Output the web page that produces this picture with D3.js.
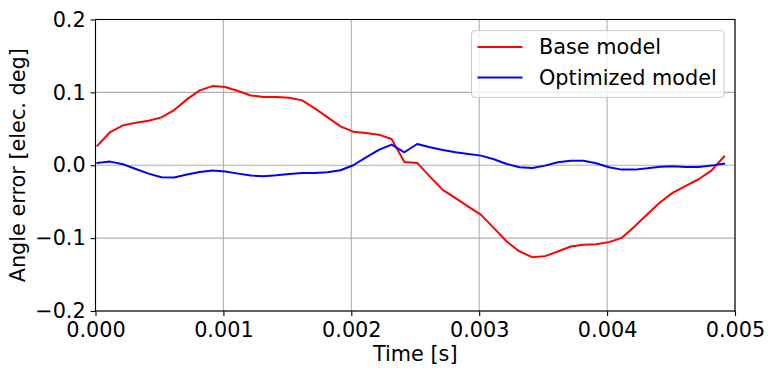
<!DOCTYPE html>
<html>
<head>
<meta charset="utf-8">
<script src="https://cdn.jsdelivr.net/npm/d3@7"></script>
<style>
  body { margin: 0; background: #fff; }
  text { font-family: "DejaVu Sans", sans-serif; }
</style>
</head>
<body>
<svg id="chart" width="768" height="368" viewBox="0 0 768 368"></svg>
<script>
// time samples [s]
let time = [0.000015, 0.000115, 0.000215, 0.000315, 0.000415, 0.000515, 0.000615, 0.000715, 0.000815, 0.000915,
    0.001015, 0.001115, 0.001215, 0.001315, 0.001415, 0.001515, 0.001615, 0.001715, 0.001815, 0.001915,
    0.002015, 0.002115, 0.002215, 0.002315, 0.002415, 0.002515, 0.002615, 0.002715, 0.002815, 0.002915,
    0.003015, 0.003115, 0.003215, 0.003315, 0.003415, 0.003515, 0.003615, 0.003715, 0.003815, 0.003915,
    0.004015, 0.004115, 0.004215, 0.004315, 0.004415, 0.004515, 0.004615, 0.004715, 0.004815, 0.004915]

// angle error [elec. deg]
let base_model = [0.0269, 0.0456, 0.0547, 0.0584, 0.0611, 0.0657, 0.0758, 0.0904, 0.1027, 0.1086,
    0.1073, 0.1018, 0.0958, 0.0936, 0.0936, 0.0927, 0.0890, 0.0781, 0.0657, 0.0534,
    0.0461, 0.0442, 0.0420, 0.0360, 0.0045, 0.0032, -0.0156, -0.0338, -0.0452, -0.0567,
    -0.0681, -0.0863, -0.1046, -0.1183, -0.1261, -0.1247, -0.1183, -0.1115, -0.1092, -0.1083,
    -0.1055, -0.0996, -0.0840, -0.0672, -0.0507, -0.0375, -0.0284, -0.0192, -0.0073, 0.0120]

let optimized_model = [0.0032, 0.0050, 0.0013, -0.0051, -0.0115, -0.0165, -0.0169, -0.0128, -0.0092, -0.0073,
    -0.0087, -0.0115, -0.0142, -0.0151, -0.0137, -0.0119, -0.0105, -0.0105, -0.0096, -0.0069,
    0.0000, 0.0109, 0.0210, 0.0283, 0.0178, 0.0292, 0.0246, 0.0210, 0.0178, 0.0155,
    0.0132, 0.0082, 0.0018, -0.0028, -0.0037, -0.0005, 0.0041, 0.0063, 0.0063, 0.0027,
    -0.0028, -0.0060, -0.0060, -0.0042, -0.0019, -0.0014, -0.0023, -0.0023, -0.0005, 0.0022]

let x_ticks = [0, 0.001, 0.002, 0.003, 0.004, 0.005]
let y_ticks = [-0.2, -0.1, 0.0, 0.1, 0.2]
let series_names = ["Base model", "Optimized model"]
let series_colors = ["red", "blue"]

let svg = d3.select("#chart")
let margin = {left: 95.5, right: 33, top: 19.5, bottom: 57}
let width = 768 - margin.left - margin.right
let height = 368 - margin.top - margin.bottom
let fs = "20.8px"

let x = d3.scaleLinear().domain([0, 0.005]).range([0, width])
let y = d3.scaleLinear().domain([-0.2, 0.2]).range([height, 0])

let main_group = svg.append("g")
    .attr("transform", `translate(${margin.left},${margin.top})`)

// grid
main_group.append("g").selectAll("line")
    .data(x_ticks).enter().append("line")
    .attr("x1", d => x(d)).attr("x2", d => x(d))
    .attr("y1", 0).attr("y2", height)
    .attr("stroke", "#b0b0b0").attr("stroke-width", 1.1)
main_group.append("g").selectAll("line")
    .data(y_ticks).enter().append("line")
    .attr("x1", 0).attr("x2", width)
    .attr("y1", d => y(d)).attr("y2", d => y(d))
    .attr("stroke", "#b0b0b0").attr("stroke-width", 1.1)

// curves
let line = d3.line()
    .x((d, i) => x(time[i]))
    .y(d => y(d))

let all_series = [base_model, optimized_model]
all_series.forEach(function (s, k) {
    main_group.append("path")
        .datum(s)
        .attr("d", line)
        .attr("fill", "none")
        .attr("stroke", series_colors[k])
        .attr("stroke-width", 2)
        .attr("stroke-linejoin", "round")
        .attr("stroke-linecap", "square")
})

// axes
let fmt_x = d3.format(".3f")
let fmt_y = d => d3.format(".1f")(d).replace("-", "\u2212")

let x_axis = main_group.append("g")
    .attr("transform", `translate(0,${height})`)
    .call(d3.axisBottom(x).tickValues(x_ticks).tickFormat(fmt_x).tickSize(4.9).tickPadding(4.9))
let y_axis = main_group.append("g")
    .call(d3.axisLeft(y).tickValues(y_ticks).tickFormat(fmt_y).tickSize(4.9).tickPadding(4.9))

;[x_axis, y_axis].forEach(function (a) {
    a.select(".domain").remove()
    a.selectAll(".tick line").attr("stroke", "#000").attr("stroke-width", 1.1)
    a.selectAll(".tick text")
        .attr("fill", "#000")
        .style("font-size", fs)
        .style("font-family", "DejaVu Sans, sans-serif")
})
x_axis.selectAll(".tick text").attr("dy", "0.78em")

// spines
main_group.append("rect")
    .attr("x", 0).attr("y", 0)
    .attr("width", width).attr("height", height)
    .attr("fill", "none")
    .attr("stroke", "#000")
    .attr("stroke-width", 1.1)

// axis labels
svg.append("text")
    .attr("x", margin.left + width / 2)
    .attr("y", 361)
    .attr("text-anchor", "middle")
    .style("font-size", fs)
    .text("Time [s]")

svg.append("text")
    .attr("transform", `translate(24.5,${margin.top + height / 2}) rotate(-90)`)
    .attr("text-anchor", "middle")
    .style("font-size", fs)
    .text("Angle error [elec. deg]")

// legend
let legend = svg.append("g")
    .attr("transform", "translate(471.5,30.5)")
legend.append("rect")
    .attr("width", 252.5).attr("height", 67)
    .attr("rx", 4).attr("ry", 4)
    .attr("fill", "#fff").attr("fill-opacity", 0.8)
    .attr("stroke", "#cccccc").attr("stroke-width", 1.1)

series_names.forEach(function (name, k) {
    let ly = 16.5 + k * 30.5
    legend.append("line")
        .attr("x1", 6).attr("x2", 51)
        .attr("y1", ly).attr("y2", ly)
        .attr("stroke", series_colors[k])
        .attr("stroke-width", 2)
    legend.append("text")
        .attr("x", 67.5)
        .attr("y", ly)
        .attr("dy", "0.36em")
        .style("font-size", fs)
        .text(name)
})
</script>
</body>
</html>
